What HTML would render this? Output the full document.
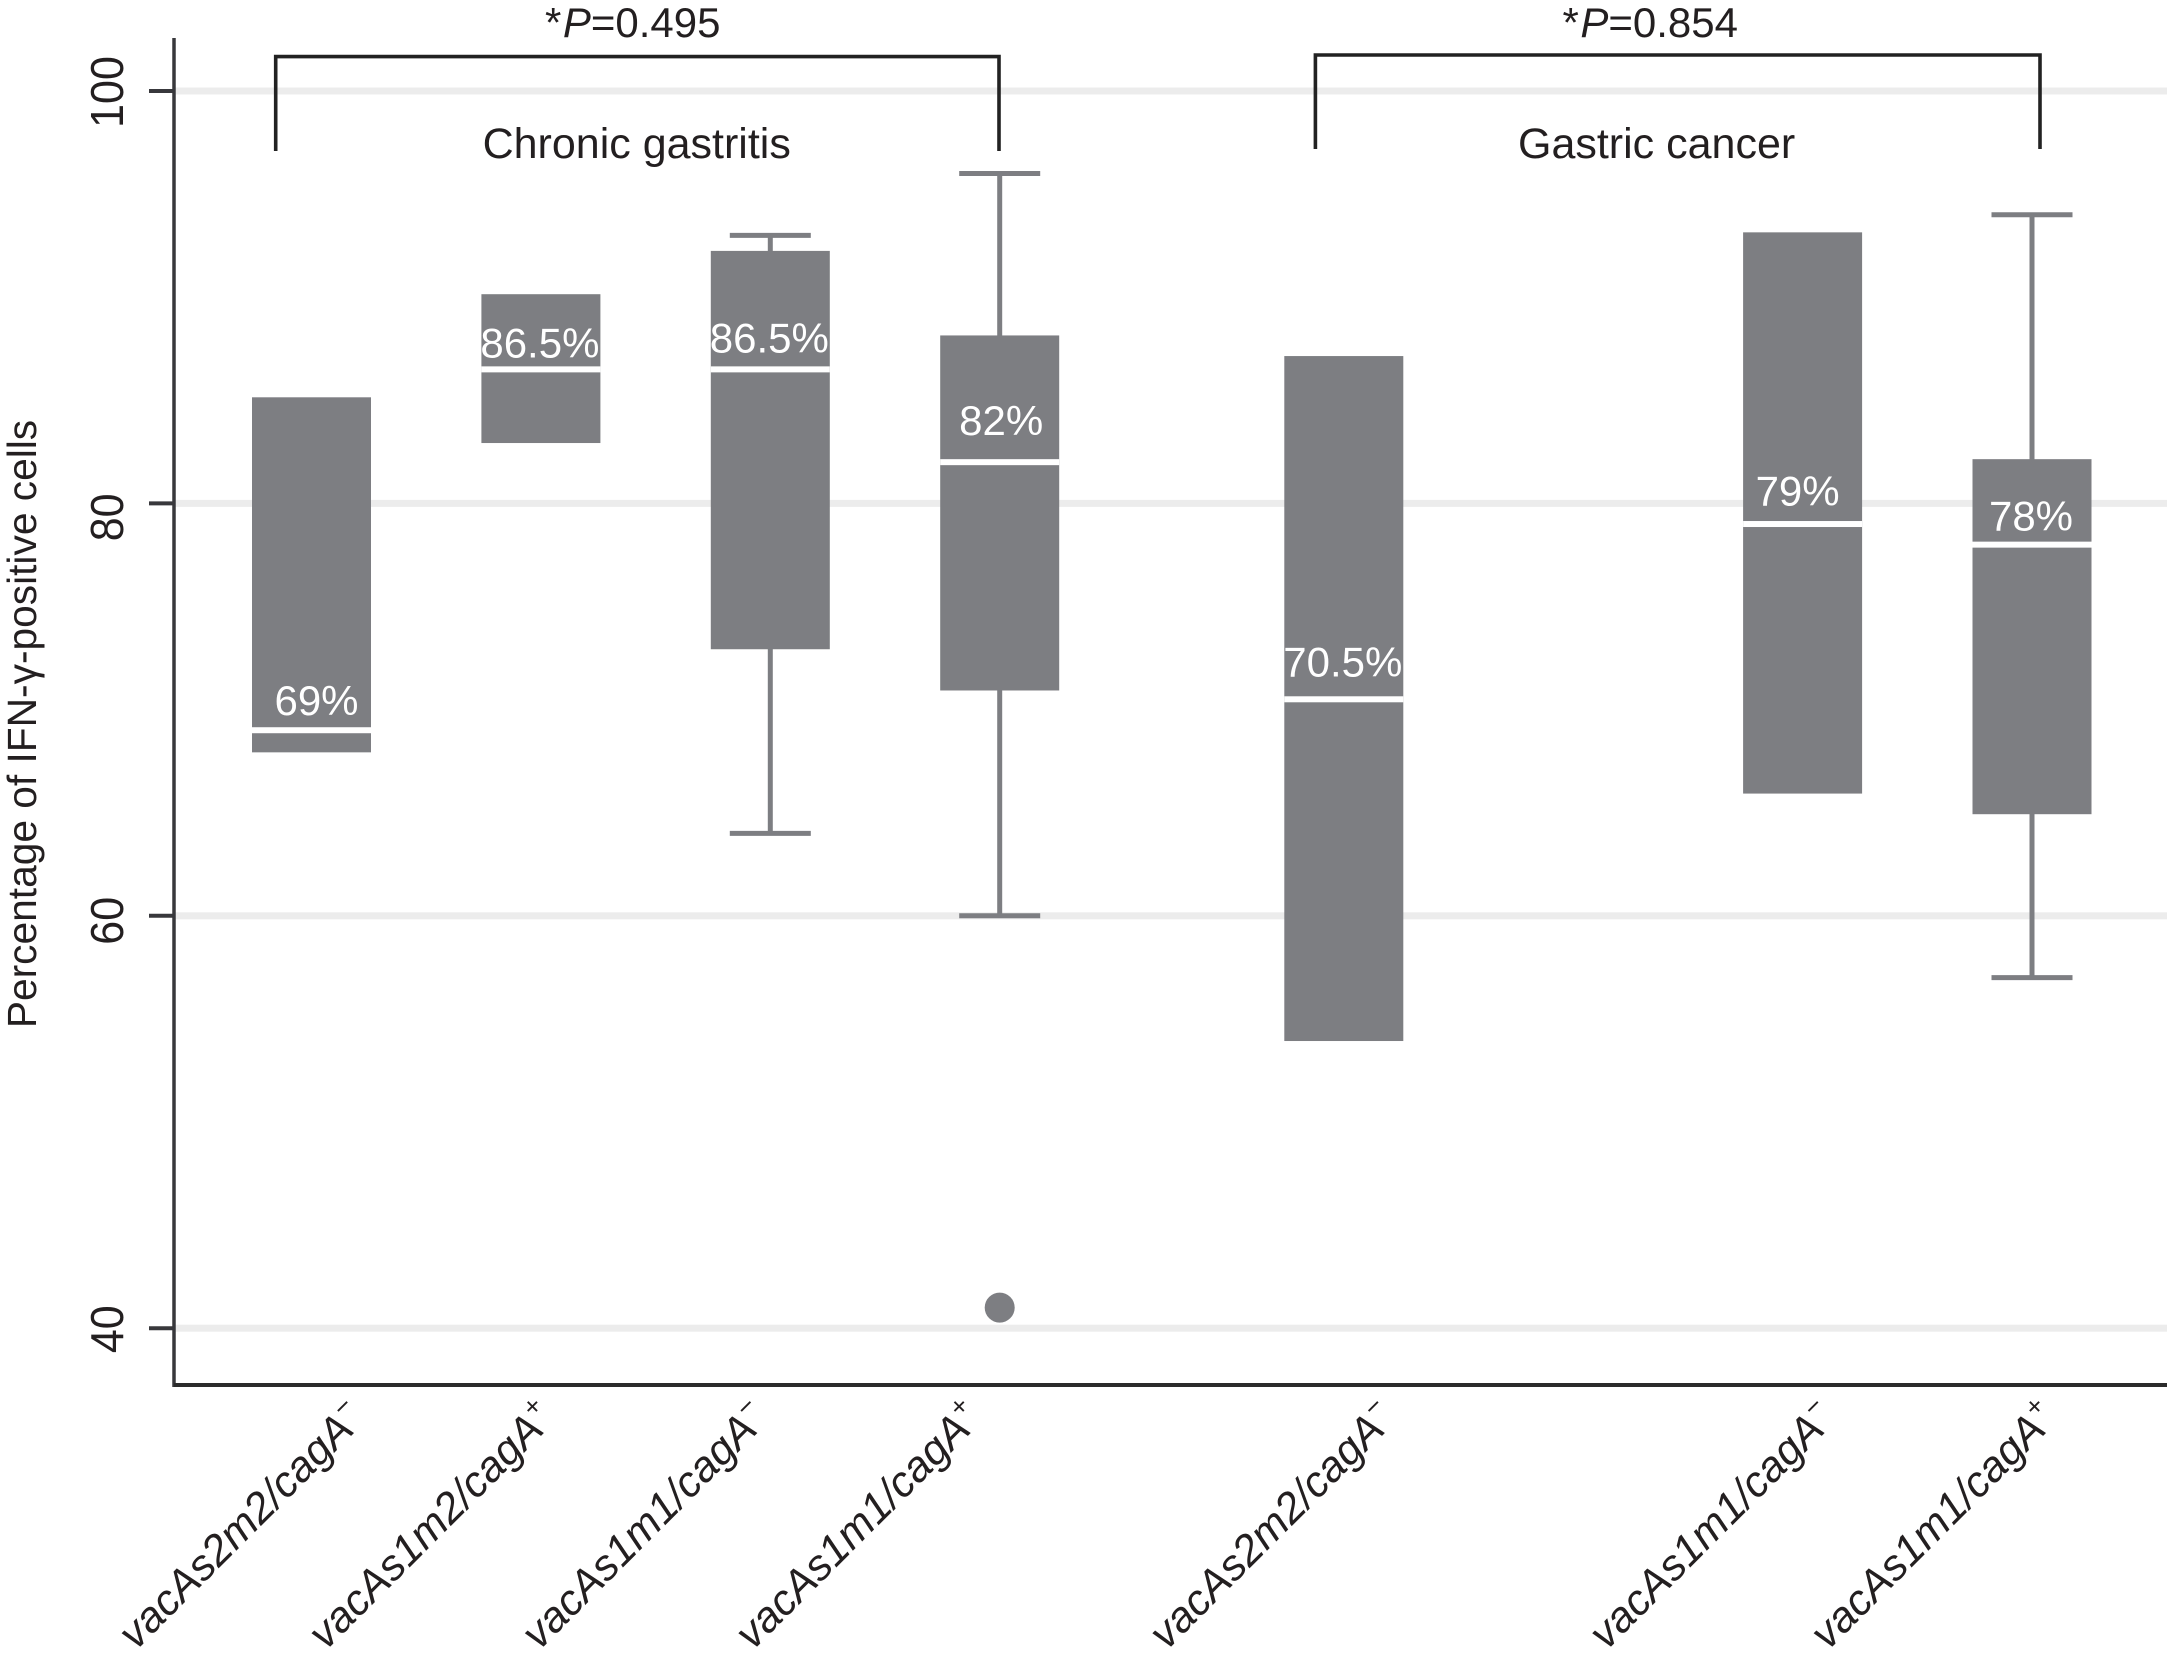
<!DOCTYPE html>
<html lang="en">
<head>
<meta charset="utf-8">
<title>IFN-γ-positive cells by genotype</title>
<style>
  html, body { margin: 0; padding: 0; background: #fff; }
  svg { display: block; }
  text { font-family: "Liberation Sans", sans-serif; }
</style>
</head>
<body>
<svg id="chart" xmlns="http://www.w3.org/2000/svg" width="2169" height="1660" viewBox="0 0 2169 1660"></svg>
<script>
// ---- chart data ----
const categories = ['vacAs2m2/cagA', 'vacAs1m2/cagA', 'vacAs1m1/cagA', 'vacAs1m1/cagA', 'vacAs2m2/cagA', 'vacAs1m1/cagA', 'vacAs1m1/cagA'];
const categorySigns = ['\u2212', '+', '\u2212', '+', '\u2212', '\u2212', '+'];
const categorySlots = [0, 1, 2, 3, 4.5, 6.5, 7.5];
const q1Values = [68, 83, 73, 71, 54, 66, 65];
const medianValues = [69, 86.5, 86.5, 82, 70.5, 79, 78];
const q3Values = [85, 90, 92.1, 88, 87, 93, 82];
const whiskerLowValues = [null, null, 64, 60, null, null, 57];
const whiskerHighValues = [null, null, 93, 96, null, null, 94];
const outlierSlots = [3];
const outlierValues = [41];
const yTickValues = [100, 80, 60, 40];
const pValueLabels = ['0.495', '0.854'];
const groupLabels = ['Chronic gastritis', 'Gastric cancer'];

// ---- layout ----
const NS = 'http://www.w3.org/2000/svg';
const svg = document.getElementById('chart');
const plotLeft = 174, plotRight = 2167, plotTop = 38, plotBottom = 1385;
const boxFill = '#7d7e82', inkColor = '#231f20';
function yScale(v) { return 91 + (100 - v) * 20.62; }
function xScale(s) { return 311.5 + 229.4 * s; }
function mk(tag, attrs, text) {
  const el = document.createElementNS(NS, tag);
  for (const k in attrs) el.setAttribute(k, attrs[k]);
  if (text !== undefined) el.textContent = text;
  svg.appendChild(el);
  return el;
}

// gridlines
yTickValues.forEach(function (v) {
  const el = mk('rect', { x: plotLeft, y: yScale(v) - 3.5, width: plotRight - plotLeft, height: 7, fill: '#ececec' });
  
  
});

// axes
const yAxis = mk('line', { x1: plotLeft, y1: plotTop, x2: plotLeft, y2: plotBottom + 2, stroke: '#38383c', 'stroke-width': 3.5 });


const xAxis = mk('line', { x1: plotLeft, y1: plotBottom, x2: plotRight, y2: plotBottom, stroke: '#2b2b2b', 'stroke-width': 4 });



// y ticks and labels
const tickLabelNudge = { 100: 1, 80: 14, 60: 5, 40: 1 };
yTickValues.forEach(function (v) {
  const tick = mk('line', { x1: 149, y1: yScale(v), x2: plotLeft, y2: yScale(v), stroke: '#38383c', 'stroke-width': 4 });
  
  
  const ly = yScale(v) + tickLabelNudge[v];
  const label = mk('text', { x: 123, y: ly, 'font-size': 46, fill: inkColor, 'text-anchor': 'middle', textLength: String(v).length * 23.9, lengthAdjust: 'spacingAndGlyphs', transform: 'rotate(-90 123 ' + ly + ')' }, String(v));
  
  
});

// y axis title
const yTitle = mk('text', { x: 36, y: 724, 'font-size': 40.7, fill: inkColor, 'text-anchor': 'middle', transform: 'rotate(-90 36 724)' }, 'Percentage of IFN-\u03B3-positive cells');



// boxes
const boxWidth = 119, capWidth = 81, boxPadTop = 3, boxPadBottom = 1.5;
const labelLift = [15, 12, 17, 27, 23, 18.5, 14];
const labelShift = [5, -1, -1, 1.5, -1, -5, -1];
categorySlots.forEach(function (slot, i) {
  const cx = xScale(slot);
  if (whiskerHighValues[i] !== null) {
    const stem = mk('line', { x1: cx, y1: yScale(whiskerHighValues[i]), x2: cx, y2: yScale(q3Values[i]), stroke: boxFill, 'stroke-width': 5 });
    
    
    const cap = mk('line', { x1: cx - capWidth / 2, y1: yScale(whiskerHighValues[i]), x2: cx + capWidth / 2, y2: yScale(whiskerHighValues[i]), stroke: boxFill, 'stroke-width': 5 });
    
    
  }
  if (whiskerLowValues[i] !== null) {
    const stemLow = mk('line', { x1: cx, y1: yScale(q1Values[i]), x2: cx, y2: yScale(whiskerLowValues[i]), stroke: boxFill, 'stroke-width': 5 });
    
    
    const capLow = mk('line', { x1: cx - capWidth / 2, y1: yScale(whiskerLowValues[i]), x2: cx + capWidth / 2, y2: yScale(whiskerLowValues[i]), stroke: boxFill, 'stroke-width': 5 });
    
    
  }
  const boxTop = yScale(q3Values[i]) - boxPadTop;
  const boxBottom = yScale(q1Values[i]) + boxPadBottom;
  const box = mk('rect', { x: cx - boxWidth / 2, y: boxTop, width: boxWidth, height: boxBottom - boxTop, fill: boxFill });
  
  
  const med = mk('rect', { x: cx - boxWidth / 2, y: yScale(medianValues[i]) - 3, width: boxWidth, height: 6, fill: '#fff' });
  
  
  const val = mk('text', { x: cx + labelShift[i], y: yScale(medianValues[i]) - labelLift[i], 'font-size': 42, fill: '#fff', 'text-anchor': 'middle' }, medianValues[i] + '%');
  
  
});

// outliers
outlierValues.forEach(function (v, i) {
  const dot = mk('circle', { cx: xScale(outlierSlots[i]), cy: yScale(v), r: 15, fill: boxFill });
  
  
});

// x tick labels
const tickLabelShift = [-175.5, -215, -231, -247, -177, -196, -204];
categories.forEach(function (name, i) {
  const tx = xScale(categorySlots[i]) + tickLabelShift[i];
  const ty = 1651;
  const label = mk('text', { x: tx, y: ty, 'font-size': 43, 'font-style': 'italic', fill: inkColor, transform: 'rotate(-45 ' + tx + ' ' + ty + ')' });
  
  
  const main = document.createElementNS(NS, 'tspan');
  main.textContent = name;
  label.appendChild(main);
  const sign = document.createElementNS(NS, 'tspan');
  sign.setAttribute('font-size', '27');
  sign.setAttribute('dy', '-18');
  sign.textContent = categorySigns[i];
  label.appendChild(sign);
});

// significance brackets
const brackets = [
  { left: 275.7, right: 999, top: 56.6, bottom: 151, textX: 545, groupX: 482.6 },
  { left: 1315.4, right: 2040, top: 55, bottom: 149, textX: 1562.5, groupX: 1518 }
];
brackets.forEach(function (b, i) {
  const path = mk('path', { d: 'M' + b.left + ' ' + b.bottom + 'V' + b.top + 'H' + b.right + 'V' + b.bottom, fill: 'none', stroke: '#222', 'stroke-width': 3.6 });
  
  
  const p = mk('text', { x: b.textX, y: 37, 'font-size': 42, fill: inkColor });
  
  
  const star = document.createElementNS(NS, 'tspan');
  star.textContent = '*';
  p.appendChild(star);
  const italicP = document.createElementNS(NS, 'tspan');
  italicP.setAttribute('font-style', 'italic');
  italicP.setAttribute('dx', '1.5');
  italicP.textContent = 'P';
  p.appendChild(italicP);
  const rest = document.createElementNS(NS, 'tspan');
  rest.textContent = '=' + pValueLabels[i];
  p.appendChild(rest);
  const g = mk('text', { x: b.groupX, y: 158, 'font-size': 43, fill: inkColor }, groupLabels[i]);
  
  
});
</script>
</body>
</html>
